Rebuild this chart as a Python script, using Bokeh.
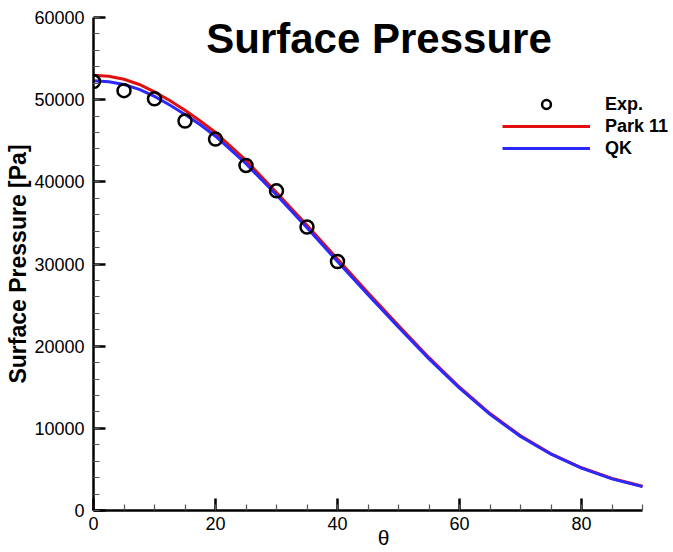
from bokeh.plotting import figure
from bokeh.models import Range1d, FixedTicker, Legend, LegendItem, Label, NumeralTickFormatter
from bokeh.embed import file_html
from bokeh.resources import INLINE

# ---- data ----
theta_exp = [0, 5, 10, 15, 20, 25, 30, 35, 40]
p_exp = [52200, 51100, 50100, 47400, 45200, 42000, 38900, 34500, 30300]

theta_cfd = [0, 2.5, 5, 7.5, 10, 12.5, 15, 17.5, 20, 25, 30, 35, 40, 45, 50, 55,
             60, 65, 70, 75, 80, 85, 90]
p_park11 = [52980, 52850, 52480, 51850, 50950, 49900, 48700, 47400, 46000, 42600,
            38700, 34700, 30600, 26500, 22500, 18600, 15000, 11800, 9100, 6900,
            5200, 3900, 2950]
p_qk = [52300, 52180, 51850, 51250, 50400, 49350, 48200, 46950, 45550, 42200,
        38400, 34400, 30300, 26250, 22300, 18450, 14900, 11700, 9000, 6850,
        5150, 3850, 2900]

x_major = [0, 20, 40, 60, 80]
x_minor = list(range(0, 91, 5))
y_major = [0, 10000, 20000, 30000, 40000, 50000, 60000]
y_minor = list(range(0, 60001, 2000))

FONT = "Liberation Sans"

p = figure(width=673, height=552, output_backend="svg", toolbar_location=None,
           x_range=Range1d(0, 95.08), y_range=Range1d(0, 60000),
           min_border_left=93, min_border_right=0, min_border_top=17, min_border_bottom=42,
           background_fill_color="white", border_fill_color="white")
p.outline_line_color = None
p.grid.visible = False

p.xaxis.ticker = FixedTicker(ticks=x_major, minor_ticks=x_minor)
p.xaxis.bounds = (0, 90)
p.yaxis.ticker = FixedTicker(ticks=y_major, minor_ticks=y_minor)
p.yaxis.formatter = NumeralTickFormatter(format="0")

for ax in (p.xaxis[0], p.yaxis[0]):
    ax.axis_line_width = 2.5
    ax.axis_line_color = "black"
    ax.major_tick_in = 12
    ax.major_tick_out = 0
    ax.minor_tick_in = 6
    ax.minor_tick_out = 0
    ax.major_tick_line_width = 2.5
    ax.major_tick_line_color = "black"
    ax.minor_tick_line_width = 1.2
    ax.minor_tick_line_color = "#555555"
    ax.major_label_text_font = FONT
    ax.major_label_text_font_size = "18px"
    ax.major_label_text_color = "black"

p.yaxis.axis_label = "Surface Pressure [Pa]"
p.yaxis.axis_label_text_font = FONT
p.yaxis.axis_label_text_font_style = "bold"
p.yaxis.axis_label_text_font_size = "23px"
p.yaxis.axis_label_text_color = "black"
p.yaxis.axis_label_standoff = 0
p.yaxis.major_label_standoff = 9

p.xaxis.axis_label = "θ"
p.xaxis.axis_label_text_font = FONT
p.xaxis.axis_label_text_font_style = "normal"
p.xaxis.axis_label_text_font_size = "21px"
p.xaxis.axis_label_text_color = "black"
p.xaxis.axis_label_standoff = -7
p.xaxis.major_label_standoff = 6

r_park = p.line(theta_cfd, p_park11, line_color="#e01010", line_width=3)
r_qk = p.line(theta_cfd, p_qk, line_color="#2a2aff", line_width=3)
r_exp = p.scatter(theta_exp, p_exp, marker="circle", size=13, fill_color=None,
                  line_color="black", line_width=2.5)

legend = Legend(items=[LegendItem(label="Exp.", renderers=[r_exp]),
                       LegendItem(label="Park 11", renderers=[r_park]),
                       LegendItem(label="QK", renderers=[r_qk])],
                location=(409, 351), orientation="vertical",
                glyph_width=88, glyph_height=22, label_height=22, spacing=0,
                label_standoff=15, padding=0, margin=0,
                border_line_color=None, background_fill_alpha=0,
                label_text_font=FONT, label_text_font_style="bold",
                label_text_font_size="18px", label_text_color="black")
p.add_layout(legend)

title = Label(x=46.8, y=57450, text="Surface Pressure", text_align="center",
              text_baseline="alphabetic", text_font=FONT, text_font_style="bold",
              text_font_size="42px", text_color="black")
p.add_layout(title)

open("out.html", "w").write(file_html(p, INLINE))
